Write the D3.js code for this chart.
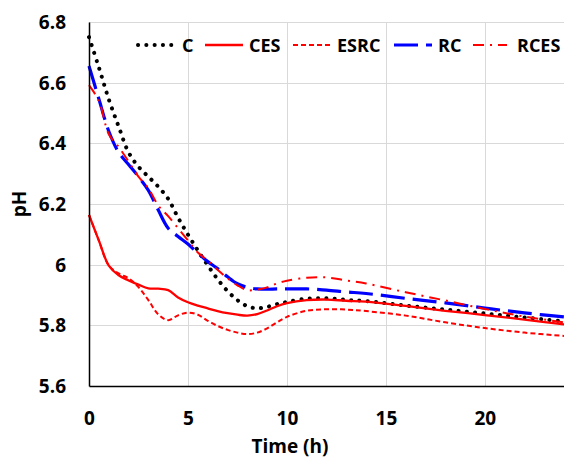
<!DOCTYPE html>
<html>
<head>
<meta charset="utf-8">
<script src="https://cdn.jsdelivr.net/npm/d3@7"></script>
<style>
  body { margin: 0; background: #fff; }
  text { font-family: "Open Sans", "Noto Sans", sans-serif; font-weight: bold; fill: #000; }
</style>
</head>
<body>
<svg id="chart" width="564" height="459"></svg>
<script>
// sampling times (h)
var times = [0, 0.5, 1, 1.5, 2, 2.5, 3, 3.5, 4, 4.5, 5, 5.5, 6, 6.5, 7, 7.5, 8, 8.5, 9, 9.5, 10, 11, 12, 13, 14, 16, 18, 20, 22, 24];

var cValues    = [6.75, 6.65, 6.545, 6.455, 6.37, 6.323, 6.29, 6.257, 6.217, 6.155, 6.099, 6.047, 5.998, 5.952, 5.913, 5.883, 5.863, 5.856, 5.861, 5.870, 5.877, 5.888, 5.889, 5.884, 5.880, 5.865, 5.852, 5.839, 5.826, 5.813];
var cesValues  = [6.164, 6.079, 5.997, 5.965, 5.948, 5.934, 5.922, 5.921, 5.916, 5.892, 5.876, 5.865, 5.856, 5.847, 5.840, 5.835, 5.832, 5.837, 5.849, 5.863, 5.873, 5.883, 5.885, 5.881, 5.878, 5.864, 5.848, 5.834, 5.819, 5.803];
var esrcValues = [6.164, 6.079, 5.997, 5.971, 5.955, 5.926, 5.883, 5.836, 5.817, 5.833, 5.842, 5.835, 5.815, 5.798, 5.785, 5.776, 5.771, 5.776, 5.790, 5.810, 5.828, 5.848, 5.853, 5.852, 5.847, 5.832, 5.810, 5.791, 5.776, 5.765];
var rcValues   = [6.655, 6.546, 6.44, 6.37, 6.33, 6.29, 6.245, 6.18, 6.12, 6.093, 6.068, 6.038, 6.01, 5.987, 5.96, 5.937, 5.925, 5.92, 5.919, 5.92, 5.92, 5.92, 5.916, 5.91, 5.905, 5.889, 5.874, 5.857, 5.841, 5.828];
var rcesValues = [6.592, 6.54, 6.43, 6.388, 6.34, 6.29, 6.252, 6.195, 6.16, 6.12, 6.08, 6.04, 6.013, 5.983, 5.955, 5.932, 5.916, 5.918, 5.925, 5.938, 5.947, 5.957, 5.958, 5.948, 5.938, 5.909, 5.882, 5.854, 5.829, 5.81];

var seriesNames = ["C", "CES", "ESRC", "RC", "RCES"];
var xTicks = [0, 5, 10, 15, 20];
var yTicks = [5.6, 5.8, 6.0, 6.2, 6.4, 6.6, 6.8];

// drawing styles per series
var styles = {
  "C":    {color: "#000", width: 4,   dash: "0.1,8.2", cap: "round"},
  "CES":  {color: "#ff0000", width: 2.3, dash: null, cap: "butt"},
  "ESRC": {color: "#ff0000", width: 2, dash: "5,3", cap: "butt"},
  "RC":   {color: "#0000ff", width: 3.2, dash: "24,8", cap: "butt"},
  "RCES": {color: "#ff0000", width: 2, dash: "11,6,2,6", cap: "butt"}
};
var seriesData = {"C": cValues, "CES": cesValues, "ESRC": esrcValues, "RC": rcValues, "RCES": rcesValues};

(function() {
  var svg = d3.select("#chart");
  var plotLeft = 89, plotRight = 564, plotTop = 22, plotBottom = 386;

  var x = d3.scaleLinear().domain([0, 24]).range([plotLeft, plotRight]);
  var y = d3.scaleLinear().domain([5.6, 6.8]).range([plotBottom, plotTop]);

  // grid
  svg.append("g").selectAll("line")
    .data(yTicks.slice(1))
    .enter().append("line")
    .attr("x1", plotLeft).attr("x2", plotRight)
    .attr("y1", function(d) { return Math.round(y(d)) + 0.5; })
    .attr("y2", function(d) { return Math.round(y(d)) + 0.5; })
    .attr("stroke", "#d9d9d9").attr("stroke-width", 1);
  svg.append("g").selectAll("line")
    .data(xTicks.slice(1))
    .enter().append("line")
    .attr("y1", plotTop).attr("y2", plotBottom)
    .attr("x1", function(d) { return Math.round(x(d)) + 0.5; })
    .attr("x2", function(d) { return Math.round(x(d)) + 0.5; })
    .attr("stroke", "#d9d9d9").attr("stroke-width", 1);

  // series
  var line = d3.line().curve(d3.curveCatmullRom.alpha(0.5));
  seriesNames.forEach(function(name) {
    var vals = seriesData[name];
    var st = styles[name];
    svg.append("path")
      .attr("d", line(times.map(function(t, i) { return [x(t), y(vals[i])]; })))
      .attr("fill", "none")
      .attr("stroke", st.color)
      .attr("stroke-width", st.width)
      .attr("stroke-dasharray", st.dash)
      .attr("stroke-linecap", st.cap);
  });

  // axes
  var yAxis = svg.append("g")
    .attr("transform", "translate(" + plotLeft + ",0)")
    .call(d3.axisLeft(y).tickValues(yTicks).tickSize(0).tickPadding(23)
      .tickFormat(function(d) { return String(+d.toFixed(1)); }));
  yAxis.select(".domain").attr("stroke", "#000").attr("stroke-width", 1.5);
  yAxis.selectAll("text").style("font-size", "19px").attr("dy", "0.35em");

  var xAxis = svg.append("g")
    .attr("transform", "translate(0," + plotBottom + ")")
    .call(d3.axisBottom(x).tickValues(xTicks).tickSize(0).tickPadding(0));
  xAxis.select(".domain").attr("stroke", "#000").attr("stroke-width", 1.5);
  xAxis.selectAll("text").style("font-size", "19px").attr("y", 39).attr("dy", 0);

  // axis titles
  svg.append("text")
    .attr("x", 290).attr("y", 453)
    .attr("text-anchor", "middle")
    .style("font-size", "19px")
    .text("Time (h)");
  svg.append("text")
    .attr("transform", "translate(26,204) rotate(-90)")
    .attr("text-anchor", "middle")
    .style("font-size", "19px")
    .text("pH");

  // legend
  var legendX = [138, 205, 293, 394, 473];
  var legend = svg.append("g");
  seriesNames.forEach(function(name, i) {
    var st = styles[name];
    var lx = legendX[i];
    var len = name === "RCES" ? 34 : 38;
    legend.append("line")
      .attr("x1", lx).attr("x2", lx + len)
      .attr("y1", 45).attr("y2", 45)
      .attr("stroke", st.color)
      .attr("stroke-width", st.width)
      .attr("stroke-dasharray", st.dash)
      .attr("stroke-linecap", st.cap);
    legend.append("text")
      .attr("x", lx + len + (name === "RCES" ? 10 : 6))
      .attr("y", 51.5)
      .style("font-size", "18px")
      .text(name);
  });
})();
</script>
</body>
</html>
